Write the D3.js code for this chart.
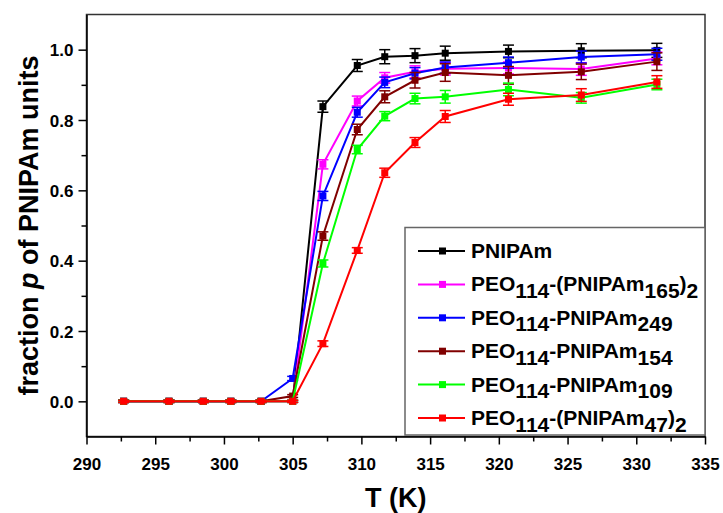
<!DOCTYPE html>
<html>
<head>
<meta charset="utf-8">
<script src="https://cdn.jsdelivr.net/npm/d3@7"></script>
<style>
  body { margin: 0; background: #fff; }
  svg { display: block; font-family: "Liberation Sans", Arial, sans-serif; font-weight: bold; }
</style>
</head>
<body>
<div id="chart"></div>
<script>
// temperatures (K)
var temps = [292.7, 296.0, 298.5, 300.5, 302.7, 305.0, 307.2, 309.7, 311.7, 313.9, 316.1, 320.7, 326.0, 331.5];

var pnipam      = [0, 0, 0, 0, 0, 0, 0.838, 0.955, 0.980, 0.983, 0.990, 0.995, 0.997, 0.998];
var pnipamErr   = [0.003, 0.003, 0.003, 0.003, 0.003, 0.003, 0.016, 0.017, 0.020, 0.020, 0.020, 0.018, 0.020, 0.020];
var peo165      = [0, 0, 0, 0, 0, 0, 0.674, 0.854, 0.920, 0.937, 0.946, 0.948, 0.945, 0.975];
var peo165Err   = [0.003, 0.003, 0.003, 0.003, 0.003, 0.003, 0.013, 0.014, 0.015, 0.017, 0.018, 0.017, 0.018, 0.018];
var peo249      = [0, 0, 0, 0, 0, 0.065, 0.584, 0.822, 0.907, 0.933, 0.949, 0.963, 0.979, 0.987];
var peo249Err   = [0.003, 0.003, 0.003, 0.003, 0.003, 0.006, 0.013, 0.014, 0.015, 0.016, 0.016, 0.016, 0.017, 0.017];
var peo154      = [0, 0, 0, 0, 0, 0.015, 0.470, 0.773, 0.866, 0.913, 0.935, 0.927, 0.937, 0.966];
var peo154Err   = [0.003, 0.003, 0.003, 0.003, 0.003, 0.004, 0.012, 0.015, 0.017, 0.022, 0.025, 0.025, 0.022, 0.025];
var peo109      = [0, 0, 0, 0, 0, 0, 0.392, 0.716, 0.811, 0.861, 0.866, 0.887, 0.863, 0.901];
var peo109Err   = [0.003, 0.003, 0.003, 0.003, 0.003, 0.003, 0.010, 0.012, 0.013, 0.015, 0.018, 0.018, 0.015, 0.015];
var peo47       = [0, 0, 0, 0, 0, 0, 0.164, 0.429, 0.650, 0.736, 0.810, 0.859, 0.871, 0.908];
var peo47Err    = [0.003, 0.003, 0.003, 0.003, 0.003, 0.003, 0.008, 0.008, 0.013, 0.014, 0.017, 0.017, 0.018, 0.018];

var xTicks = [290, 295, 300, 305, 310, 315, 320, 325, 330, 335];
var yTicks = [0, 0.2, 0.4, 0.6, 0.8, 1.0];

// legend labels as [text, isSubscript] pieces
var series = [
  { color: '#000000', y: pnipam, err: pnipamErr, label: [['PNIPAm', 0]] },
  { color: '#ff00ff', y: peo165, err: peo165Err, label: [['PEO', 0], ['114', 1], ['-(PNIPAm', 0], ['165', 1], [')', 0], ['2', 1]] },
  { color: '#0000ff', y: peo249, err: peo249Err, label: [['PEO', 0], ['114', 1], ['-PNIPAm', 0], ['249', 1]] },
  { color: '#800000', y: peo154, err: peo154Err, label: [['PEO', 0], ['114', 1], ['-PNIPAm', 0], ['154', 1]] },
  { color: '#00ff00', y: peo109, err: peo109Err, label: [['PEO', 0], ['114', 1], ['-PNIPAm', 0], ['109', 1]] },
  { color: '#ff0000', y: peo47, err: peo47Err, label: [['PEO', 0], ['114', 1], ['-(PNIPAm', 0], ['47', 1], [')', 0], ['2', 1]] }
];

function ready() {
  var W = 723, H = 513;
  var left = 86.5, right = 705, top = 14.5, bottom = 436.5;

  var svg = d3.select('#chart').append('svg')
    .attr('width', W)
    .attr('height', H);

  var x = d3.scaleLinear().domain([290, 335]).range([left, right]);
  var y = d3.scaleLinear().domain([-0.1, 1.1]).range([bottom, top]);

  // frame
  svg.append('rect')
    .attr('x', left).attr('y', top)
    .attr('width', right - left).attr('height', bottom - top)
    .attr('fill', 'none')
    .attr('stroke', '#333')
    .attr('stroke-width', 1.5);

  // minor ticks
  var xMinor = xTicks.slice(0, -1).map(function(t) { return t + 2.5; });
  var yMinor = [0.1, 0.3, 0.5, 0.7, 0.9];

  svg.append('g')
    .attr('transform', 'translate(0,' + bottom + ')')
    .call(d3.axisBottom(x).tickValues(xMinor).tickSize(5).tickFormat(''))
    .call(function(g) { g.select('.domain').remove(); });
  svg.append('g')
    .attr('transform', 'translate(' + left + ',0)')
    .call(d3.axisLeft(y).tickValues(yMinor).tickSize(5).tickFormat(''))
    .call(function(g) { g.select('.domain').remove(); });

  var xAxis = svg.append('g')
    .attr('transform', 'translate(0,' + bottom + ')')
    .call(d3.axisBottom(x).tickValues(xTicks).tickSize(8).tickSizeOuter(0).tickPadding(13).tickFormat(d3.format('d')));
  var yAxis = svg.append('g')
    .attr('transform', 'translate(' + left + ',0)')
    .call(d3.axisLeft(y).tickValues(yTicks).tickSize(8).tickSizeOuter(0).tickPadding(5).tickFormat(d3.format('.1f')));

  svg.selectAll('.tick line').attr('stroke', '#000').attr('stroke-width', 1.5);
  [xAxis, yAxis].forEach(function(a) {
    a.select('.domain').attr('stroke', '#000').attr('stroke-width', 1.5);
    a.selectAll('text')
      .attr('font-family', '"Liberation Sans", Arial, sans-serif')
      .attr('font-weight', 'bold')
      .attr('font-size', 17)
      .attr('fill', '#000');
  });
  yAxis.selectAll('text').attr('dy', '0.36em');

  // axis titles
  svg.append('text')
    .attr('x', (left + right) / 2)
    .attr('y', 507)
    .attr('text-anchor', 'middle')
    .attr('font-size', 27)
    .text('T (K)');

  var yTitle = svg.append('text')
    .attr('transform', 'translate(38,' + (top + bottom) / 2 + ') rotate(-90)')
    .attr('text-anchor', 'middle')
    .attr('font-size', 27);
  yTitle.append('tspan').text('fraction ');
  yTitle.append('tspan').attr('font-style', 'italic').text('p');
  yTitle.append('tspan').text(' of PNIPAm units');

  // series
  var line = d3.line()
    .x(function(d) { return x(d.t); })
    .y(function(d) { return y(d.v); });

  series.forEach(function(s) {
    var pts = temps.map(function(t, i) { return { t: t, v: s.y[i], e: s.err[i] }; });
    var g = svg.append('g');

    g.append('path')
      .datum(pts)
      .attr('d', line)
      .attr('fill', 'none')
      .attr('stroke', s.color)
      .attr('stroke-width', 2);

    var bars = g.selectAll('.err').data(pts).enter().append('g');
    bars.append('line')
      .attr('x1', function(d) { return x(d.t); })
      .attr('x2', function(d) { return x(d.t); })
      .attr('y1', function(d) { return y(d.v - d.e); })
      .attr('y2', function(d) { return y(d.v + d.e); });
    bars.append('line')
      .attr('x1', function(d) { return x(d.t) - 5.5; })
      .attr('x2', function(d) { return x(d.t) + 5.5; })
      .attr('y1', function(d) { return y(d.v - d.e); })
      .attr('y2', function(d) { return y(d.v - d.e); });
    bars.append('line')
      .attr('x1', function(d) { return x(d.t) - 5.5; })
      .attr('x2', function(d) { return x(d.t) + 5.5; })
      .attr('y1', function(d) { return y(d.v + d.e); })
      .attr('y2', function(d) { return y(d.v + d.e); });
    bars.selectAll('line').attr('stroke', s.color).attr('stroke-width', 1.5);

    g.selectAll('.mk').data(pts).enter().append('rect')
      .attr('x', function(d) { return x(d.t) - 3.5; })
      .attr('y', function(d) { return y(d.v) - 3.5; })
      .attr('width', 7)
      .attr('height', 7)
      .attr('fill', s.color);
  });

  // legend
  var lg = svg.append('g');
  lg.append('rect')
    .attr('x', 405).attr('y', 227.5)
    .attr('width', right - 405).attr('height', 435 - 227.5)
    .attr('fill', '#fff')
    .attr('stroke', '#666')
    .attr('stroke-width', 1.5);

  series.forEach(function(s, i) {
    var ry = 251 + i * 33.4;
    lg.append('line')
      .attr('x1', 418).attr('x2', 465)
      .attr('y1', ry).attr('y2', ry)
      .attr('stroke', s.color).attr('stroke-width', 2);
    lg.append('rect')
      .attr('x', 439).attr('y', ry - 3.5)
      .attr('width', 7).attr('height', 7)
      .attr('fill', s.color);

    var txt = lg.append('text')
      .attr('x', 471).attr('y', ry + 7)
      .attr('font-size', 21);
    var shift = 0;
    s.label.forEach(function(p) {
      var want = p[1] ? 6.5 : 0;
      txt.append('tspan').attr('dy', want - shift).text(p[0]);
      shift = want;
    });
  });
}

ready();
</script>
</body>
</html>
